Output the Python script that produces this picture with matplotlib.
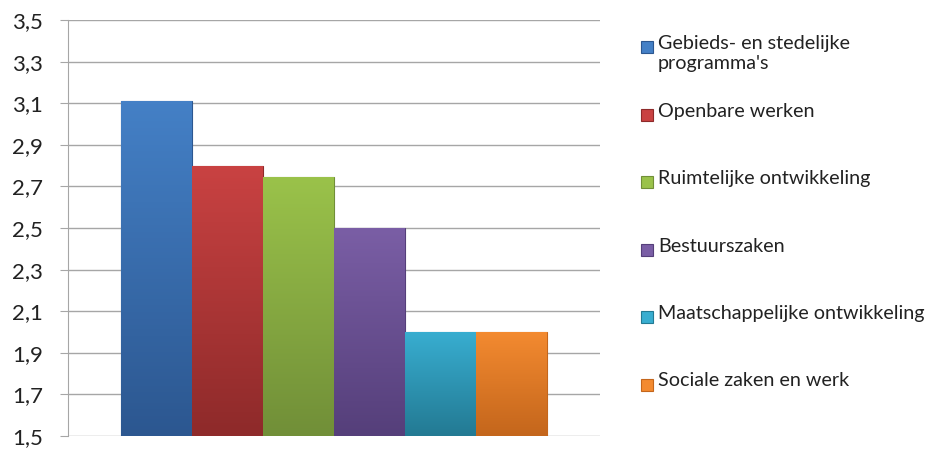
import matplotlib.pyplot as plt
import matplotlib.colors as mcolors
from matplotlib.patches import Rectangle
import numpy as np

plt.rcParams['font.family'] = ['Lato', 'DejaVu Sans']

categories = ["Gebieds- en stedelijke\nprogramma's", "Openbare werken",
              "Ruimtelijke ontwikkeling", "Bestuurszaken",
              "Maatschappelijke ontwikkeling", "Sociale zaken en werk"]
values = [3.11, 2.80, 2.745, 2.50, 2.00, 2.00]
tops = ["#4480c6", "#c94242", "#9ac24a", "#7a5ea5", "#38add0", "#f38a30"]
bottoms = ["#2c5790", "#8e2a2a", "#718f38", "#553f7a", "#237a93", "#c4661c"]
yticks = [1.5, 1.7, 1.9, 2.1, 2.3, 2.5, 2.7, 2.9, 3.1, 3.3, 3.5]

fig = plt.figure(figsize=(9.3, 4.49), dpi=100)
ax = fig.add_axes([68/930, 13/449, 532/930, 416/449])

x = np.arange(len(values))
bars = ax.bar(x, [v - 1.5 for v in values], bottom=1.5, width=1.0,
              color=tops, edgecolor=bottoms, linewidth=0.8, zorder=3)

# vertical gradient per bar, clipped to the bar shape
for b, c1, c2 in zip(bars, tops, bottoms):
    cmap = mcolors.LinearSegmentedColormap.from_list("g", [c2, c1])
    grad = np.linspace(0, 1, 100).reshape(-1, 1)
    x0, y0 = b.get_x(), b.get_y()
    im = ax.imshow(grad, cmap=cmap, aspect='auto', origin='lower',
                   extent=[x0, x0 + b.get_width(), y0, y0 + b.get_height()],
                   zorder=3.5)
    im.set_clip_path(b)

ax.set_xlim(-1.25, len(values) + 0.25)
ax.set_ylim(1.5, 3.5)
ax.set_yticks(yticks)
ax.set_yticklabels([f"{t:.1f}".replace(".", ",") for t in yticks])
ax.set_xticks([])
ax.yaxis.grid(True, color="#a6a6a6", linewidth=1.0, zorder=0)
for s in ["top", "right", "bottom"]:
    ax.spines[s].set_visible(False)
ax.spines["left"].set_color("#a6a6a6")
ax.tick_params(axis="y", length=5.8, color="#a6a6a6", pad=12,
               labelsize=16, labelcolor="#222222")

# legend, evenly spaced by first text line
W, H = 930, 449
for i, (lab, c1, c2) in enumerate(zip(categories, tops, bottoms)):
    yc = 47 + 67.5 * i
    fig.patches.append(Rectangle((641 / W, 1 - (yc + 6) / H), 12 / W, 12 / H,
                                 transform=fig.transFigure, facecolor=c1,
                                 edgecolor=c2, linewidth=0.8))
    fig.text(658 / W, 1 - (yc - 12) / H, lab, fontsize=14.2, color="#222222",
             va="top", ha="left", linespacing=1.2)

fig.savefig("out.png", dpi=100)
